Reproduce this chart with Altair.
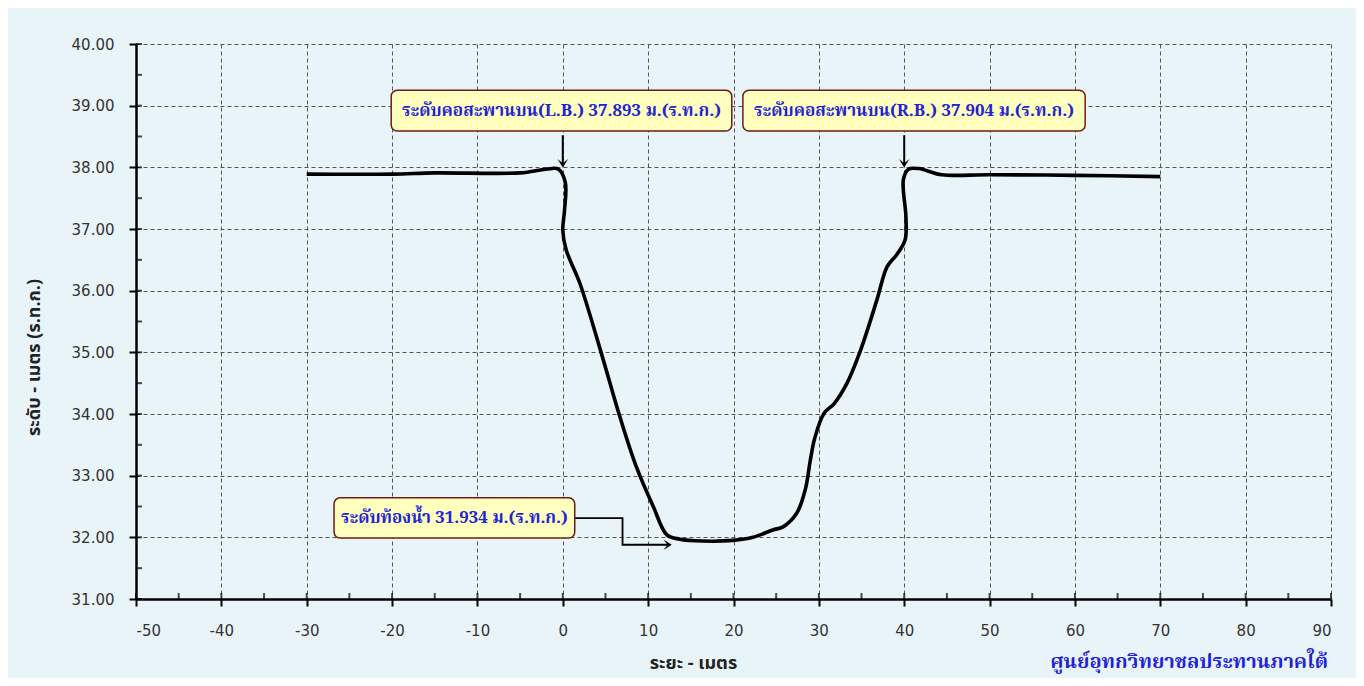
import altair as alt
import pandas as pd

# cross-section profile (distance m, elevation m MSL)
dist = [-30, -20, -15, -5, -2, -0.5, 0.3, 0.2, 0.0, 0.4, 2.0, 4.4, 6.7, 8.6, 10.6, 12.2, 13.7,
        16.4, 19.9, 22.3, 24.6, 25.8, 27.4, 28.4, 29.0, 29.5, 30.6, 31.8, 33.3, 34.9, 36.8,
        38.0, 39.1, 40.1, 40.2, 39.9, 40.5, 41.7, 44.4, 50, 60, 70]
elev = [37.89, 37.89, 37.91, 37.91, 37.97, 37.97, 37.75, 37.3, 36.98, 36.66, 36.12, 35.04,
        33.95, 33.15, 32.5, 32.04, 31.97, 31.94, 31.95, 32.0, 32.12, 32.17, 32.39, 32.77,
        33.25, 33.6, 34.01, 34.17, 34.5, 35.04, 35.85, 36.39, 36.58, 36.82, 37.2, 37.8,
        37.97, 37.98, 37.88, 37.88, 37.87, 37.85]

# annotation labels
ann_text = ["ระดับคอสะพานบน(L.B.) 37.893 ม.(ร.ท.ก.)",
            "ระดับคอสะพานบน(R.B.) 37.904 ม.(ร.ท.ก.)",
            "ระดับท้องน้ำ 31.934 ม.(ร.ท.ก.)"]
ann_x = [-0.15, 41.15, -12.7]
ann_y = [38.92, 38.92, 32.31]
box_x1 = [-20.1, 21.1, -26.8]
box_x2 = [19.8, 61.2, 1.4]
box_y1 = [39.25, 39.25, 32.64]
box_y2 = [38.59, 38.59, 31.99]

# arrows from the bank labels
arr_x = [0.0, 40.0]
arr_y1 = [38.52, 38.52]
arr_y2 = [38.05, 38.05]

# elbow connector to the bed level
conn_x = [1.4, 7.0, 7.0, 12.4]
conn_y = [32.31, 32.31, 31.88, 31.88]

y_major = [31, 32, 33, 34, 35, 36, 37, 38, 39, 40]
y_minor = [31.5, 32.5, 33.5, 34.5, 35.5, 36.5, 37.5, 38.5, 39.5]
x_major = [-50, -40, -30, -20, -10, 0, 10, 20, 30, 40, 50, 60, 70, 80, 90]
x_minor = [-45, -35, -25, -15, -5, 5, 15, 25, 35, 45, 55, 65, 75, 85]

x_title = "ระยะ - เมตร"
y_title = "ระดับ - เมตร (ร.ท.ก.)"
footer = "ศูนย์อุทกวิทยาชลประทานภาคใต้"

prof = pd.DataFrame({"x": dist, "y": elev, "o": list(range(len(dist)))})
ann = pd.DataFrame({"t": ann_text, "x": ann_x, "y": ann_y,
                    "x1": box_x1, "x2": box_x2, "y1": box_y1, "y2": box_y2})
arr = pd.DataFrame({"x": arr_x, "y1": arr_y1, "y2": arr_y2})
conn = pd.DataFrame({"x": conn_x, "y": conn_y, "o": list(range(len(conn_x)))})

xs = alt.Scale(domain=[-50, 90], nice=False, zero=False)
ys = alt.Scale(domain=[31, 40], nice=False, zero=False)

THAI = "Tahoma, 'Noto Sans Thai', 'Noto Sans', sans-serif"
SERIF = "'Angsana New', 'Noto Serif Thai', 'Liberation Serif', serif"
BLUE = "#2222D6"

base = alt.Chart(prof).mark_line(
    color="black", strokeWidth=3.6, interpolate="catmull-rom", clip=False
).encode(
    x=alt.X("x:Q", scale=xs, axis=alt.Axis(
        values=x_major, labelExpr="datum.value + ''", title=x_title, grid=True,
        titleX=557, titleY=55, labelPadding=17, titleFontSize=18, titleFont=THAI,
        titleFontWeight="bold")),
    y=alt.Y("y:Q", scale=ys, axis=alt.Axis(
        values=y_major, format=".2f", title=y_title, grid=True, titleX=-93, titleY=313,
        labelPadding=15, titleFontSize=18, titleFont=THAI, titleFontWeight="bold")),
    order="o:Q",
)

ytick = alt.Chart(pd.DataFrame({"y": y_major + y_minor})).mark_tick(
    orient="horizontal", size=6, thickness=2, color="black", xOffset=3
).encode(x=alt.datum(-50, scale=xs), y=alt.Y("y:Q", scale=ys))

xtick = alt.Chart(pd.DataFrame({"x": x_major + x_minor})).mark_tick(
    orient="vertical", size=6, thickness=2, color="black", yOffset=-3
).encode(x=alt.X("x:Q", scale=xs), y=alt.datum(31, scale=ys))

boxes = alt.Chart(ann).mark_rect(
    fill="#FFFFBE", stroke="#6E1A1A", strokeWidth=1.5, cornerRadius=6
).encode(x=alt.X("x1:Q", scale=xs), x2="x2:Q", y=alt.Y("y1:Q", scale=ys), y2="y2:Q")

texts = alt.Chart(ann).mark_text(
    font=SERIF, fontSize=17, fontWeight="bold", color=BLUE
).encode(x=alt.X("x:Q", scale=xs), y=alt.Y("y:Q", scale=ys), text="t:N")

arrows = alt.Chart(arr).mark_rule(color="black", strokeWidth=2).encode(
    x=alt.X("x:Q", scale=xs), y=alt.Y("y1:Q", scale=ys), y2="y2:Q")
heads = alt.Chart(arr).mark_point(
    shape="M-1,-1L0,0.6L1,-1L0,-0.2Z", filled=True, color="black", size=110, opacity=1
).encode(x=alt.X("x:Q", scale=xs), y=alt.Y("y2:Q", scale=ys))

connector = alt.Chart(conn).mark_line(color="black", strokeWidth=1.8, interpolate="linear").encode(
    x=alt.X("x:Q", scale=xs), y=alt.Y("y:Q", scale=ys), order="o:Q")
conn_head = alt.Chart(pd.DataFrame({"x": [conn_x[-1]], "y": [conn_y[-1]]})).mark_point(
    shape="M-1,-1L0.6,0L-1,1L-0.2,0Z", filled=True, color="black", size=110, opacity=1
).encode(x=alt.X("x:Q", scale=xs), y=alt.Y("y:Q", scale=ys))

foot = alt.Chart(pd.DataFrame({"t": [footer]})).mark_text(
    font=SERIF, fontSize=20, fontWeight="bold", color=BLUE, align="right", baseline="middle"
).encode(x=alt.value(1192), y=alt.value(618), text="t:N")

chart = alt.layer(base, ytick, xtick, connector, conn_head, arrows, heads, boxes, texts, foot).properties(
    width=1195, height=555,
    padding={"left": 128, "top": 36, "right": 25, "bottom": 79},
    autosize=alt.AutoSizeParams(type="none"),
    background="#E9F4F9",
).configure_view(stroke=None).configure_axis(
    labelFont="DejaVu Sans", labelFontSize=15, labelColor="#333333",
    domainColor="black", domainWidth=2.5, tickColor="black", tickWidth=2, tickSize=7,
    gridColor="#555555", gridDash=[4, 3], gridWidth=1, titleColor="#222222",
)

chart.save("out.html", embed_options={"renderer": "svg", "actions": False})
